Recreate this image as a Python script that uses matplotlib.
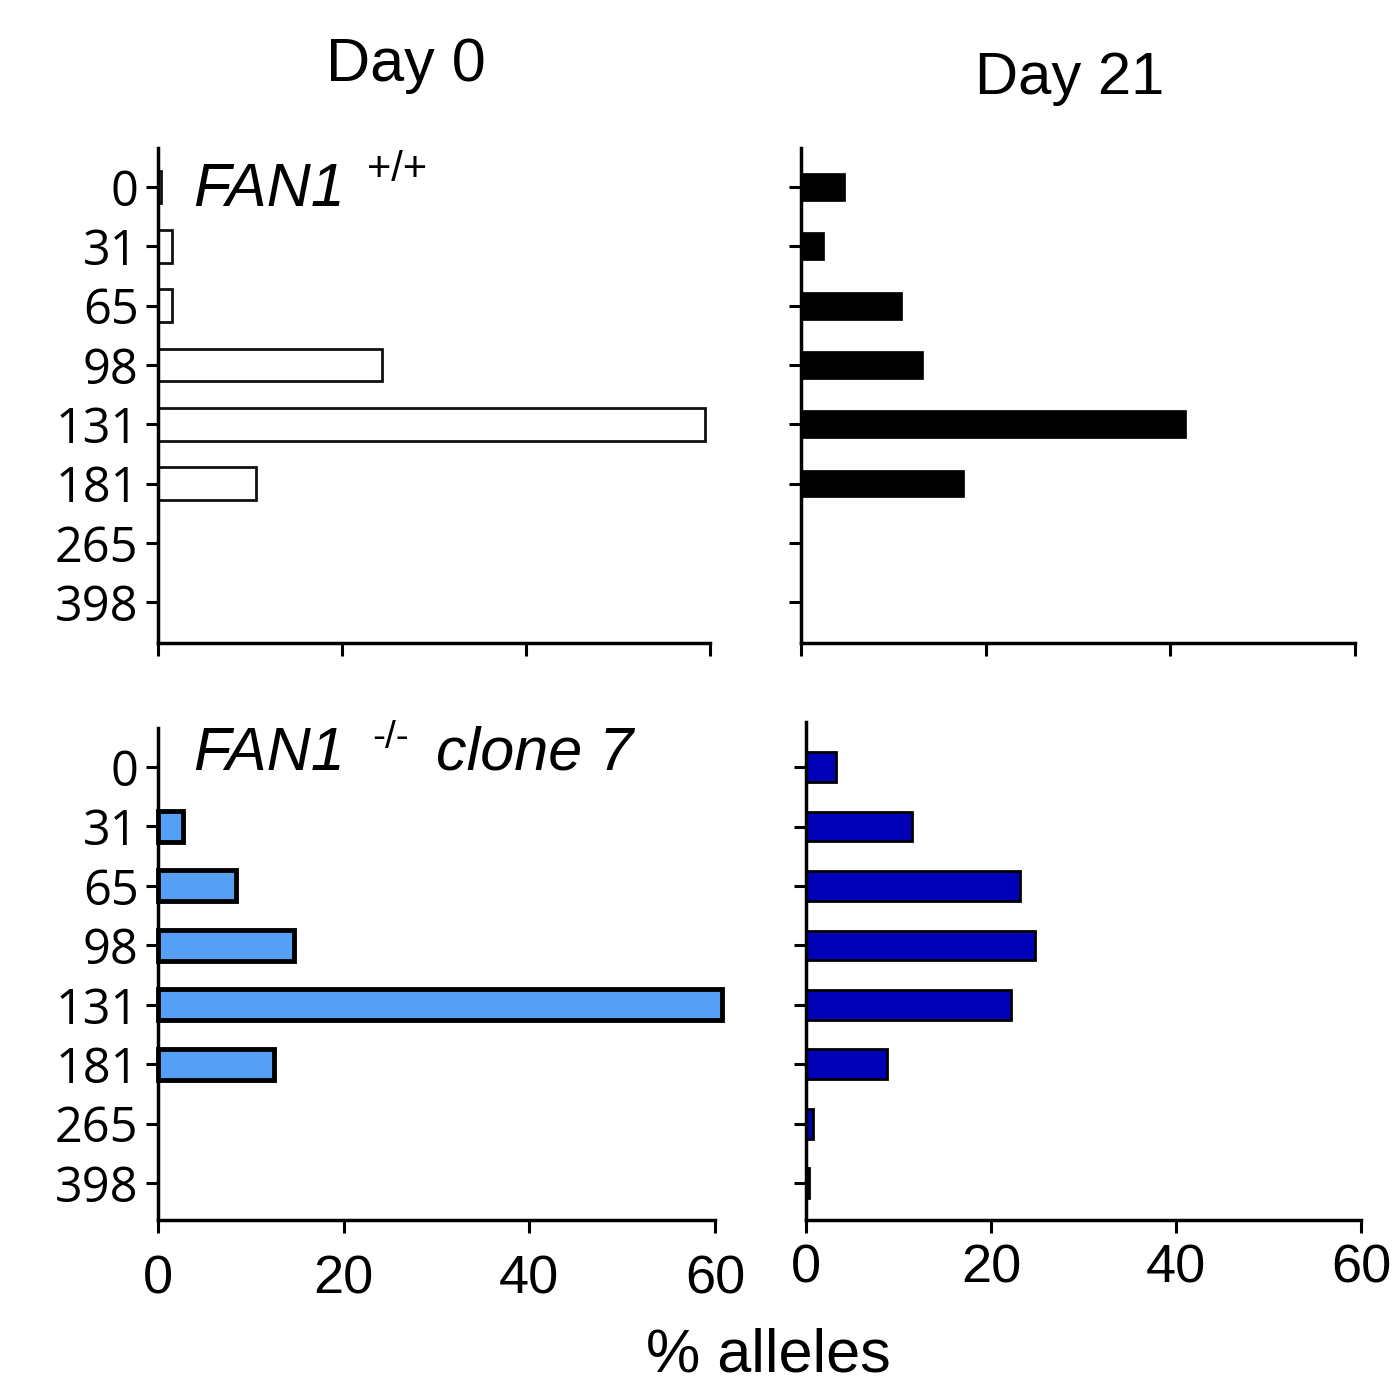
import numpy as np
import matplotlib
matplotlib.use("Agg")
import matplotlib.pyplot as plt

# repeat sizes (y categories) and % alleles
repeats = ["0", "31", "65", "98", "131", "181", "265", "398"]
wt_day0 = [0.3, 1.5, 1.5, 24.3, 59.5, 10.6, 0, 0]
wt_day21 = [4.8, 2.5, 10.9, 13.2, 41.7, 17.7, 0, 0]
ko_day0 = [0, 2.7, 8.4, 14.7, 60.8, 12.5, 0, 0]
ko_day21 = [3.2, 11.5, 23.1, 24.8, 22.2, 8.8, 0.8, 0.3]
xticks = [0, 20, 40, 60]

W, H = 1392, 1383
plt.rcParams["font.family"] = ["Liberation Sans", "DejaVu Sans"]


def rect(x0, x1, ytop, ybot):
    return [x0 / W, 1 - ybot / H, (x1 - x0) / W, (ybot - ytop) / H]


fig = plt.figure(figsize=(W / 100, H / 100), dpi=100)


def panel(r, vals, ylim, face, edge, lw, height, ylabels, xlabels, xpad):
    ax = fig.add_axes(r)
    y = np.arange(len(repeats))
    # no outline on empty bars
    lws = [lw if v > 0 else 0 for v in vals]
    bars = ax.barh(y, vals, height=height, color=face, edgecolor=edge, linewidth=lws)
    for b in bars:
        b.set_clip_on(False)
    ax.set_xlim(0, 60)
    ax.set_ylim(*ylim)
    ax.set_yticks(y)
    ax.set_xticks(xticks)
    for s in ["top", "right"]:
        ax.spines[s].set_visible(False)
    for s in ["left", "bottom"]:
        ax.spines[s].set_linewidth(2.5)
    ax.tick_params(axis="both", length=9, width=2.2, direction="out")
    if ylabels:
        ax.set_yticklabels(repeats, fontsize=35, family=["Open Sans", "DejaVu Sans"])
        ax.tick_params(axis="y", pad=5)
    else:
        ax.set_yticklabels([])
    if xlabels:
        ax.set_xticklabels([str(t) for t in xticks], fontsize=39)
        ax.tick_params(axis="x", pad=xpad)
    else:
        ax.set_xticklabels([])
    return ax


panel(rect(158, 710, 148, 643), wt_day0, (7.69, -0.66), "white", "#111111", 2.0, 0.55, True, False, 0)
panel(rect(801, 1355, 148, 643), wt_day21, (7.69, -0.66), "black", "black", 0.5, 0.47, False, False, 0)
panel(rect(158, 715, 728, 1220), ko_day0, (7.62, -0.656), "#55a0f5", "black", 3.5, 0.52, True, True, 16)
panel(rect(806, 1361, 722, 1220), ko_day21, (7.62, -0.76), "#0000b8", "black", 2.0, 0.5, False, True, 8)


def ftext(x, y, s, **kw):
    fig.text(x / W, 1 - y / H, s, **kw)


ftext(406, 65, "Day 0", fontsize=44, ha="center", va="center")
ftext(1070, 78, "Day 21", fontsize=43, ha="center", va="center")
ftext(768, 1356, "% alleles", fontsize=44, ha="center", va="center")

ftext(193, 190, "FAN1", fontsize=44, style="italic", ha="left", va="center")
ftext(367, 170, "+/+", fontsize=30, ha="left", va="center")
ftext(193, 754, "FAN1", fontsize=44, style="italic", ha="left", va="center")
ftext(372, 738, "-/-", fontsize=28, ha="left", va="center")
ftext(436, 754, "clone 7", fontsize=44, style="italic", ha="left", va="center")

fig.savefig("out.png", dpi=100)
